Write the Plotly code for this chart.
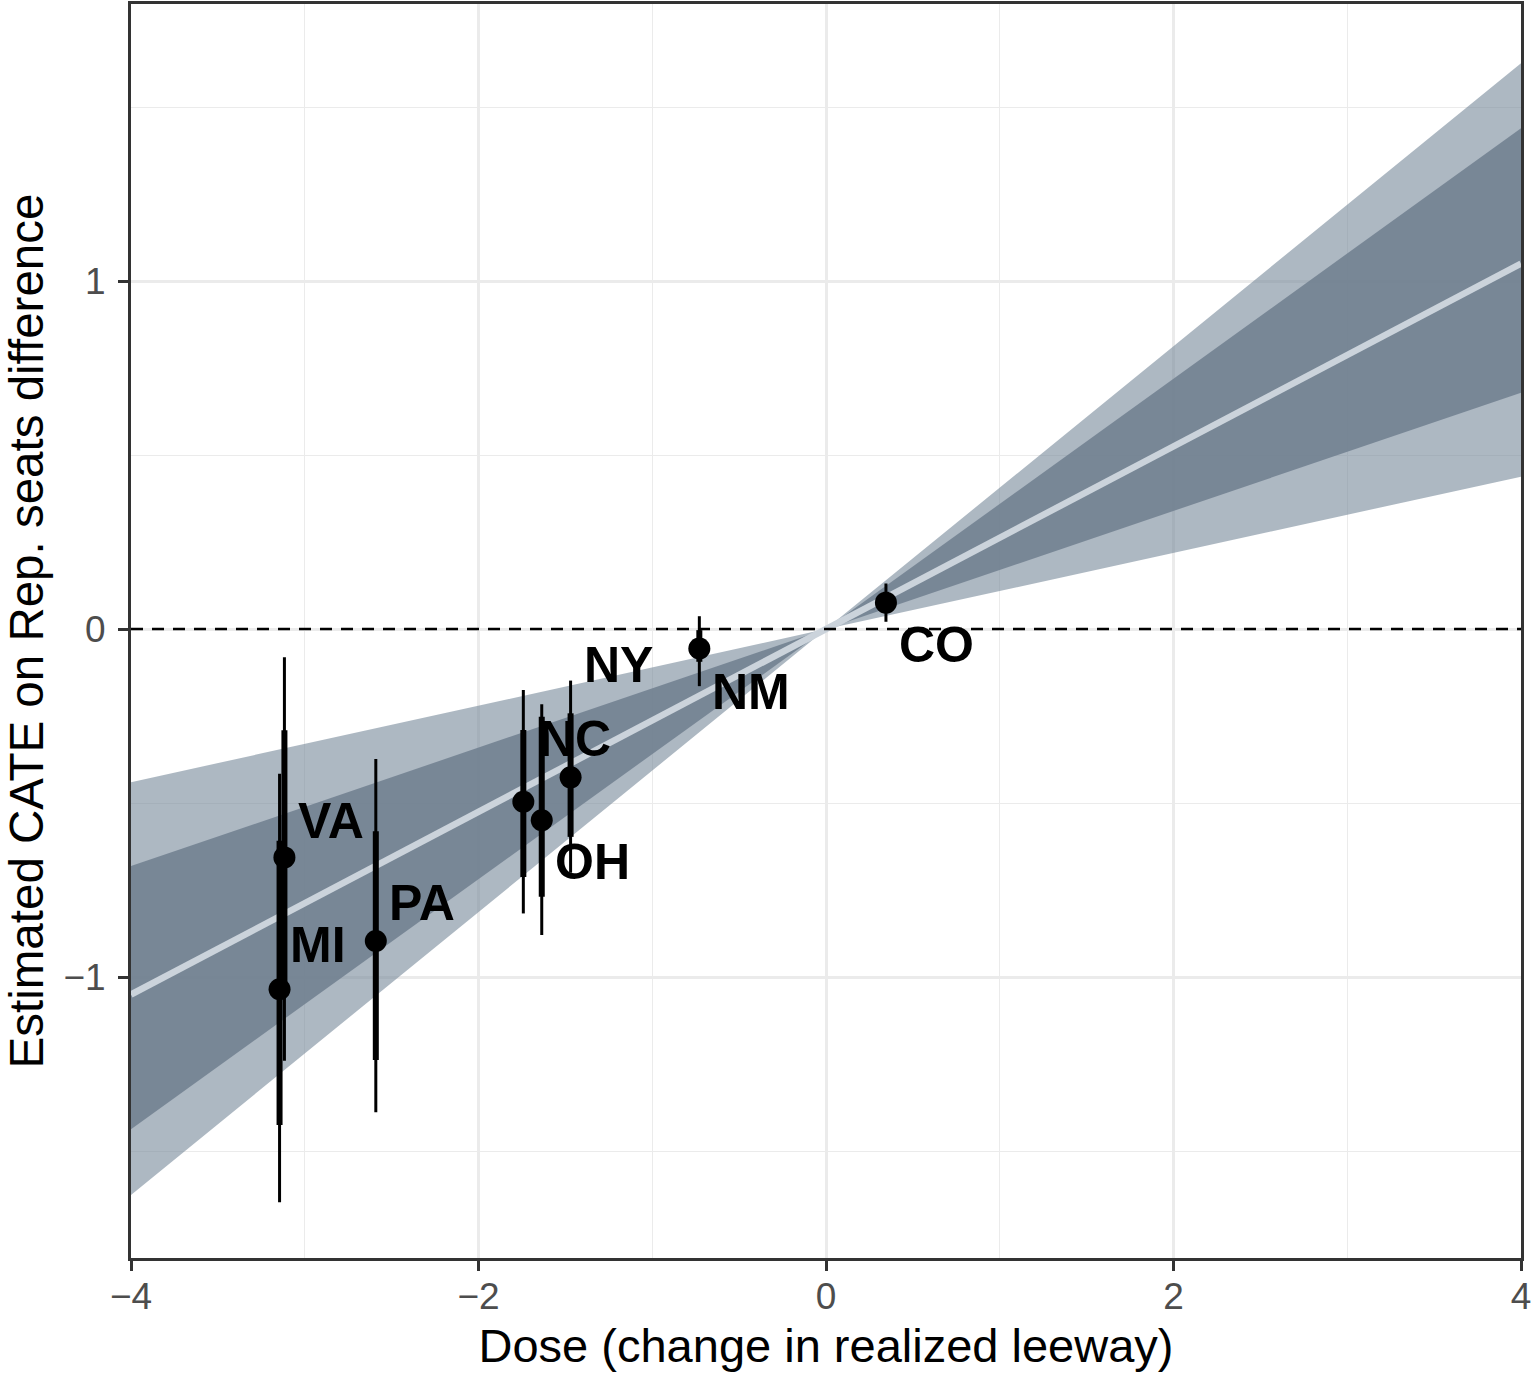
import plotly.graph_objects as go

# ---- data ----
states = ["MI", "VA", "PA", "NC", "OH", "NY", "NM", "CO"]
dose = [-3.145, -3.117, -2.591, -1.742, -1.636, -1.470, -0.729, 0.345]
cate = [-1.035, -0.656, -0.896, -0.496, -0.549, -0.426, -0.056, 0.076]
thick_lo = [-1.425, -1.020, -1.238, -0.712, -0.769, -0.597, -0.094, 0.046]
thick_hi = [-0.608, -0.291, -0.581, -0.290, -0.252, -0.242, -0.003, 0.107]
thin_lo = [-1.647, -1.240, -1.388, -0.817, -0.879, -0.700, -0.164, 0.021]
thin_hi = [-0.416, -0.081, -0.373, -0.175, -0.216, -0.148, 0.037, 0.131]

# label offsets in pixels (ggrepel-like placement)
label_dx = [38, 47, 46, 52, 51, 48, 52, 51]
label_dy = [44, 36, 38, 63, -42, 112, -43, -42]

grid_x = [-4, 0, 4]
fit = [-1.050, 0.0, 1.050]
inner_lo = [-1.437, 0.0, 0.679]
inner_hi = [-0.681, 0.0, 1.439]
outer_lo = [-1.626, 0.0, 0.438]
outer_hi = [-0.440, 0.0, 1.626]

x_ticks = [-4, -2, 0, 2, 4]
y_ticks = [-1, 0, 1]

FONT = "Liberation Sans, Arial, Helvetica, sans-serif"

fig = go.Figure()

# outer band
fig.add_trace(go.Scatter(
    x=grid_x + grid_x[::-1], y=outer_hi + outer_lo[::-1],
    fill="toself", fillcolor="rgba(119,136,153,0.6)",
    line=dict(width=0), mode="lines", hoverinfo="skip", showlegend=False))
# inner band
fig.add_trace(go.Scatter(
    x=grid_x + grid_x[::-1], y=inner_hi + inner_lo[::-1],
    fill="toself", fillcolor="rgba(112,128,144,0.87)",
    line=dict(width=0), mode="lines", hoverinfo="skip", showlegend=False))
# fitted line
fig.add_trace(go.Scatter(
    x=grid_x, y=fit, mode="lines",
    line=dict(color="#CBD3DB", width=6.5), hoverinfo="skip", showlegend=False))

# zero dashed line
fig.add_trace(go.Scatter(
    x=[x_ticks[0], x_ticks[-1]], y=[0, 0], mode="lines",
    line=dict(color="black", width=2.5, dash="12px,9px"),
    hoverinfo="skip", showlegend=False))

# error bars
def segs(xs, lo, hi):
    sx, sy = [], []
    for a, b, c in zip(xs, lo, hi):
        sx += [a, a, None]
        sy += [b, c, None]
    return sx, sy

tx, ty = segs(dose, thin_lo, thin_hi)
fig.add_trace(go.Scatter(x=tx, y=ty, mode="lines",
                         line=dict(color="black", width=3),
                         hoverinfo="skip", showlegend=False))
kx, ky = segs(dose, thick_lo, thick_hi)
fig.add_trace(go.Scatter(x=kx, y=ky, mode="lines",
                         line=dict(color="black", width=6),
                         hoverinfo="skip", showlegend=False))
fig.add_trace(go.Scatter(x=dose, y=cate, mode="markers",
                         marker=dict(color="black", size=22),
                         text=states, showlegend=False))

for s, x, y, dx, dy in zip(states, dose, cate, label_dx, label_dy):
    fig.add_annotation(x=x, y=y, xref="x", yref="y", text=f"<b>{s}</b>",
                       showarrow=False, xshift=dx, yshift=dy,
                       font=dict(family=FONT, size=50, color="black"))

axis_common = dict(
    showline=True, mirror=True, linecolor="#333333", linewidth=3,
    ticks="outside", ticklen=10, tickwidth=3, tickcolor="#333333",
    gridcolor="#EBEBEB", gridwidth=2.5, zeroline=False,
    tickfont=dict(family=FONT, size=37, color="#4D4D4D"),
    automargin=False,
)

fig.update_xaxes(
    range=[-4, 4], tickvals=x_ticks, ticklabelstandoff=-6,
    minor=dict(dtick=1, tick0=0, showgrid=True, gridcolor="#EBEBEB",
               gridwidth=1.3, ticks=""),
    title=dict(text="Dose (change in realized leeway)",
               font=dict(family=FONT, size=47, color="black"), standoff=13),
    **axis_common)
fig.update_yaxes(
    range=[-1.807, 1.796], tickvals=y_ticks, ticklabelstandoff=5,
    minor=dict(dtick=0.5, tick0=0, showgrid=True, gridcolor="#EBEBEB",
               gridwidth=1.3, ticks=""),
    title=dict(text="Estimated CATE on Rep. seats difference",
               font=dict(family=FONT, size=47.5, color="black"), standoff=14),
    **axis_common)

fig.update_layout(
    width=1536, height=1376,
    margin=dict(l=131, r=15, t=4, b=118),
    paper_bgcolor="white", plot_bgcolor="white",
    showlegend=False,
)

fig.write_html("out.html")
